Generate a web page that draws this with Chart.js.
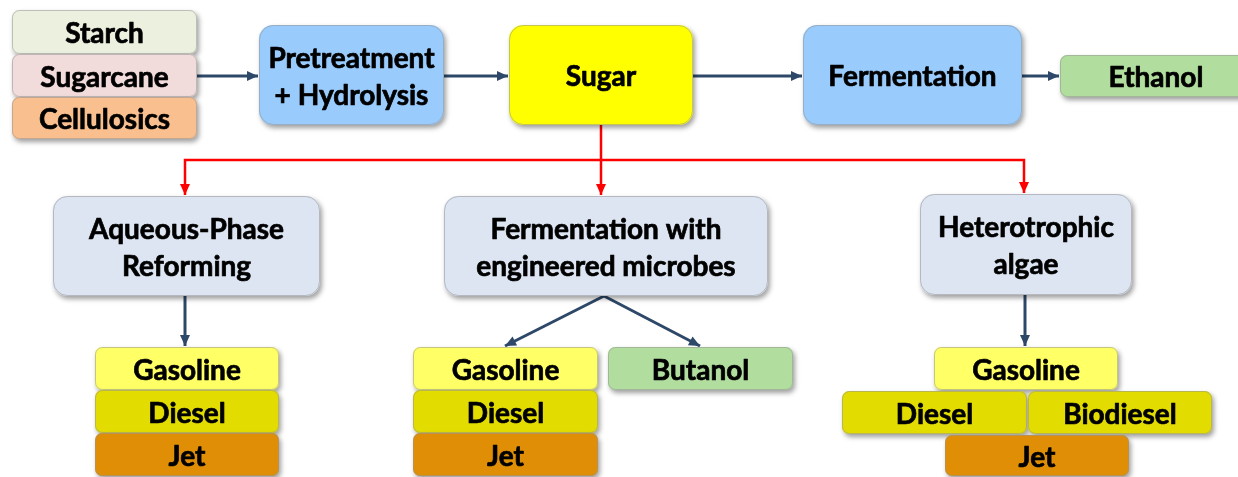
<!DOCTYPE html>
<html>
<head>
<meta charset="utf-8">
<script src="https://cdn.jsdelivr.net/npm/chart.js@4"></script>
<style>
  html, body { margin: 0; padding: 0; background: #fff; }
  #wrap { width: 1238px; height: 477px; }
</style>
</head>
<body>
<div id="wrap"><canvas id="chart"></canvas></div>
<script>
// node labels of the flow diagram
const boxLabels = [
  "Starch", "Sugarcane", "Cellulosics",
  "Pretreatment\n+ Hydrolysis", "Sugar", "Fermentation", "Ethanol",
  "Aqueous-Phase\nReforming", "Fermentation with\nengineered microbes", "Heterotrophic\nalgae",
  "Gasoline", "Diesel", "Jet",
  "Gasoline", "Diesel", "Jet", "Butanol",
  "Gasoline", "Diesel", "Biodiesel", "Jet",
];

// node extents in diagram units: [left, top, right, bottom]
const boxExtents = [
  [12, 10, 197, 54], [12, 54, 197, 97], [12, 97, 197, 139],
  [259, 25, 444, 125], [509, 25, 693, 125], [803, 25, 1022, 125], [1060, 55, 1252, 97],
  [53, 196, 320, 296], [444, 196, 768, 296], [920, 194, 1132, 295],
  [95, 347, 279, 390], [95, 390, 279, 433], [95, 433, 279, 476],
  [413, 347, 598, 390], [413, 390, 598, 433], [413, 433, 598, 476], [608, 347, 793, 390],
  [934, 347, 1118, 390], [842, 391, 1027, 434], [1028, 391, 1212, 434], [945, 435, 1129, 476],
];

// connector paths (last point is the arrow tip)
const edgePaths = [
  [[197, 76], [258, 76]],
  [[444, 76], [508, 76]],
  [[693, 76], [802, 76]],
  [[1022, 76], [1059, 76]],
  [[185, 296], [185, 346]],
  [[604, 296], [505, 346]],
  [[604, 296], [700, 346]],
  [[1025, 295], [1025, 346]],
];
const branchPaths = [
  [[601, 125], [601, 195]],
  [[601, 160], [185, 160], [185, 195]],
  [[601, 160], [1024, 160], [1024, 193]],
];

const GREEN_GREY = "#EBF0DF", PINK = "#F2DCDB", PEACH = "#F9BF8F", BLUE = "#99CBFC",
  YELLOW = "#FFFF00", GREEN = "#B1DE9E", PALE = "#DCE5F1", LEMON = "#FFFF66",
  OLIVE = "#E2DC00", ORANGE = "#DF8E05";
const boxColors = [
  GREEN_GREY, PINK, PEACH, BLUE, YELLOW, BLUE, GREEN, PALE, PALE, PALE,
  LEMON, OLIVE, ORANGE, LEMON, OLIVE, ORANGE, GREEN, LEMON, OLIVE, OLIVE, ORANGE,
];

const DARK = "#2E4869";
const RED = "#FF0000";

function toDataset(path, color) {
  return {
    data: path.map(([x, y]) => ({ x, y })),
    showLine: true,
    borderColor: color,
    borderWidth: color === RED ? 2.5 : 3,
    pointRadius: 0,
    tension: 0,
  };
}

function roundRect(ctx, x, y, w, h, r) {
  ctx.beginPath();
  ctx.moveTo(x + r, y);
  ctx.arcTo(x + w, y, x + w, y + h, r);
  ctx.arcTo(x + w, y + h, x, y + h, r);
  ctx.arcTo(x, y + h, x, y, r);
  ctx.arcTo(x, y, x + w, y, r);
  ctx.closePath();
}

const diagramPlugin = {
  id: "diagram",
  afterDatasetsDraw(chart) {
    const { ctx, scales: { x, y } } = chart;
    ctx.save();
    // arrow heads
    chart.data.datasets.forEach((ds) => {
      const pts = ds.data;
      const a = pts[pts.length - 2], b = pts[pts.length - 1];
      const ax = x.getPixelForValue(a.x), ay = y.getPixelForValue(a.y);
      const bx = x.getPixelForValue(b.x), by = y.getPixelForValue(b.y);
      const ang = Math.atan2(by - ay, bx - ax);
      const len = 11, half = 5;
      ctx.fillStyle = ds.borderColor;
      ctx.beginPath();
      ctx.moveTo(bx, by);
      ctx.lineTo(bx - len * Math.cos(ang) + half * Math.sin(ang), by - len * Math.sin(ang) - half * Math.cos(ang));
      ctx.lineTo(bx - len * Math.cos(ang) - half * Math.sin(ang), by - len * Math.sin(ang) + half * Math.cos(ang));
      ctx.closePath();
      ctx.fill();
    });
    // boxes
    boxLabels.forEach((label, i) => {
      const [l, t, r, b] = boxExtents[i];
      const px = x.getPixelForValue(l), py = y.getPixelForValue(t);
      const w = x.getPixelForValue(r) - px, h = y.getPixelForValue(b) - py;
      const rad = h > 60 ? 14 : 7;
      ctx.save();
      ctx.shadowColor = "rgba(0,0,0,0.38)";
      ctx.shadowBlur = 5;
      ctx.shadowOffsetX = 2;
      ctx.shadowOffsetY = 3;
      roundRect(ctx, px, py, w, h, rad);
      ctx.fillStyle = boxColors[i];
      ctx.fill();
      ctx.restore();
      roundRect(ctx, px + 0.5, py + 0.5, w - 1, h - 1, rad);
      ctx.strokeStyle = "rgba(150,150,150,0.55)";
      ctx.lineWidth = 1;
      ctx.stroke();

      const lines = label.split("\n");
      const cx = px + w / 2, cy = py + h / 2;
      const lh = 37;
      ctx.fillStyle = "#000";
      ctx.strokeStyle = "#000";
      ctx.lineWidth = 0.7;
      ctx.lineJoin = "round";
      ctx.font = "bold 28px Lato";
      ctx.textAlign = "center";
      ctx.textBaseline = "alphabetic";
      lines.forEach((ln, k) => {
        const ty = cy + (k - (lines.length - 1) / 2) * lh + 11;
        ctx.fillText(ln, cx, ty);
        ctx.strokeText(ln, cx, ty);
      });
    });
    ctx.restore();
  },
};

new Chart(document.getElementById("chart"), {
  type: "scatter",
  data: {
    datasets: [
      ...edgePaths.map((p) => toDataset(p, DARK)),
      ...branchPaths.map((p) => toDataset(p, RED)),
    ],
  },
  options: {
    responsive: true,
    maintainAspectRatio: false,
    animation: false,
    layout: { padding: 0 },
    scales: {
      x: { type: "linear", min: 0, max: 1238, display: false },
      y: { type: "linear", min: 0, max: 477, reverse: true, display: false },
    },
    plugins: { legend: { display: false }, tooltip: { enabled: false } },
  },
  plugins: [diagramPlugin],
});
</script>
</body>
</html>
